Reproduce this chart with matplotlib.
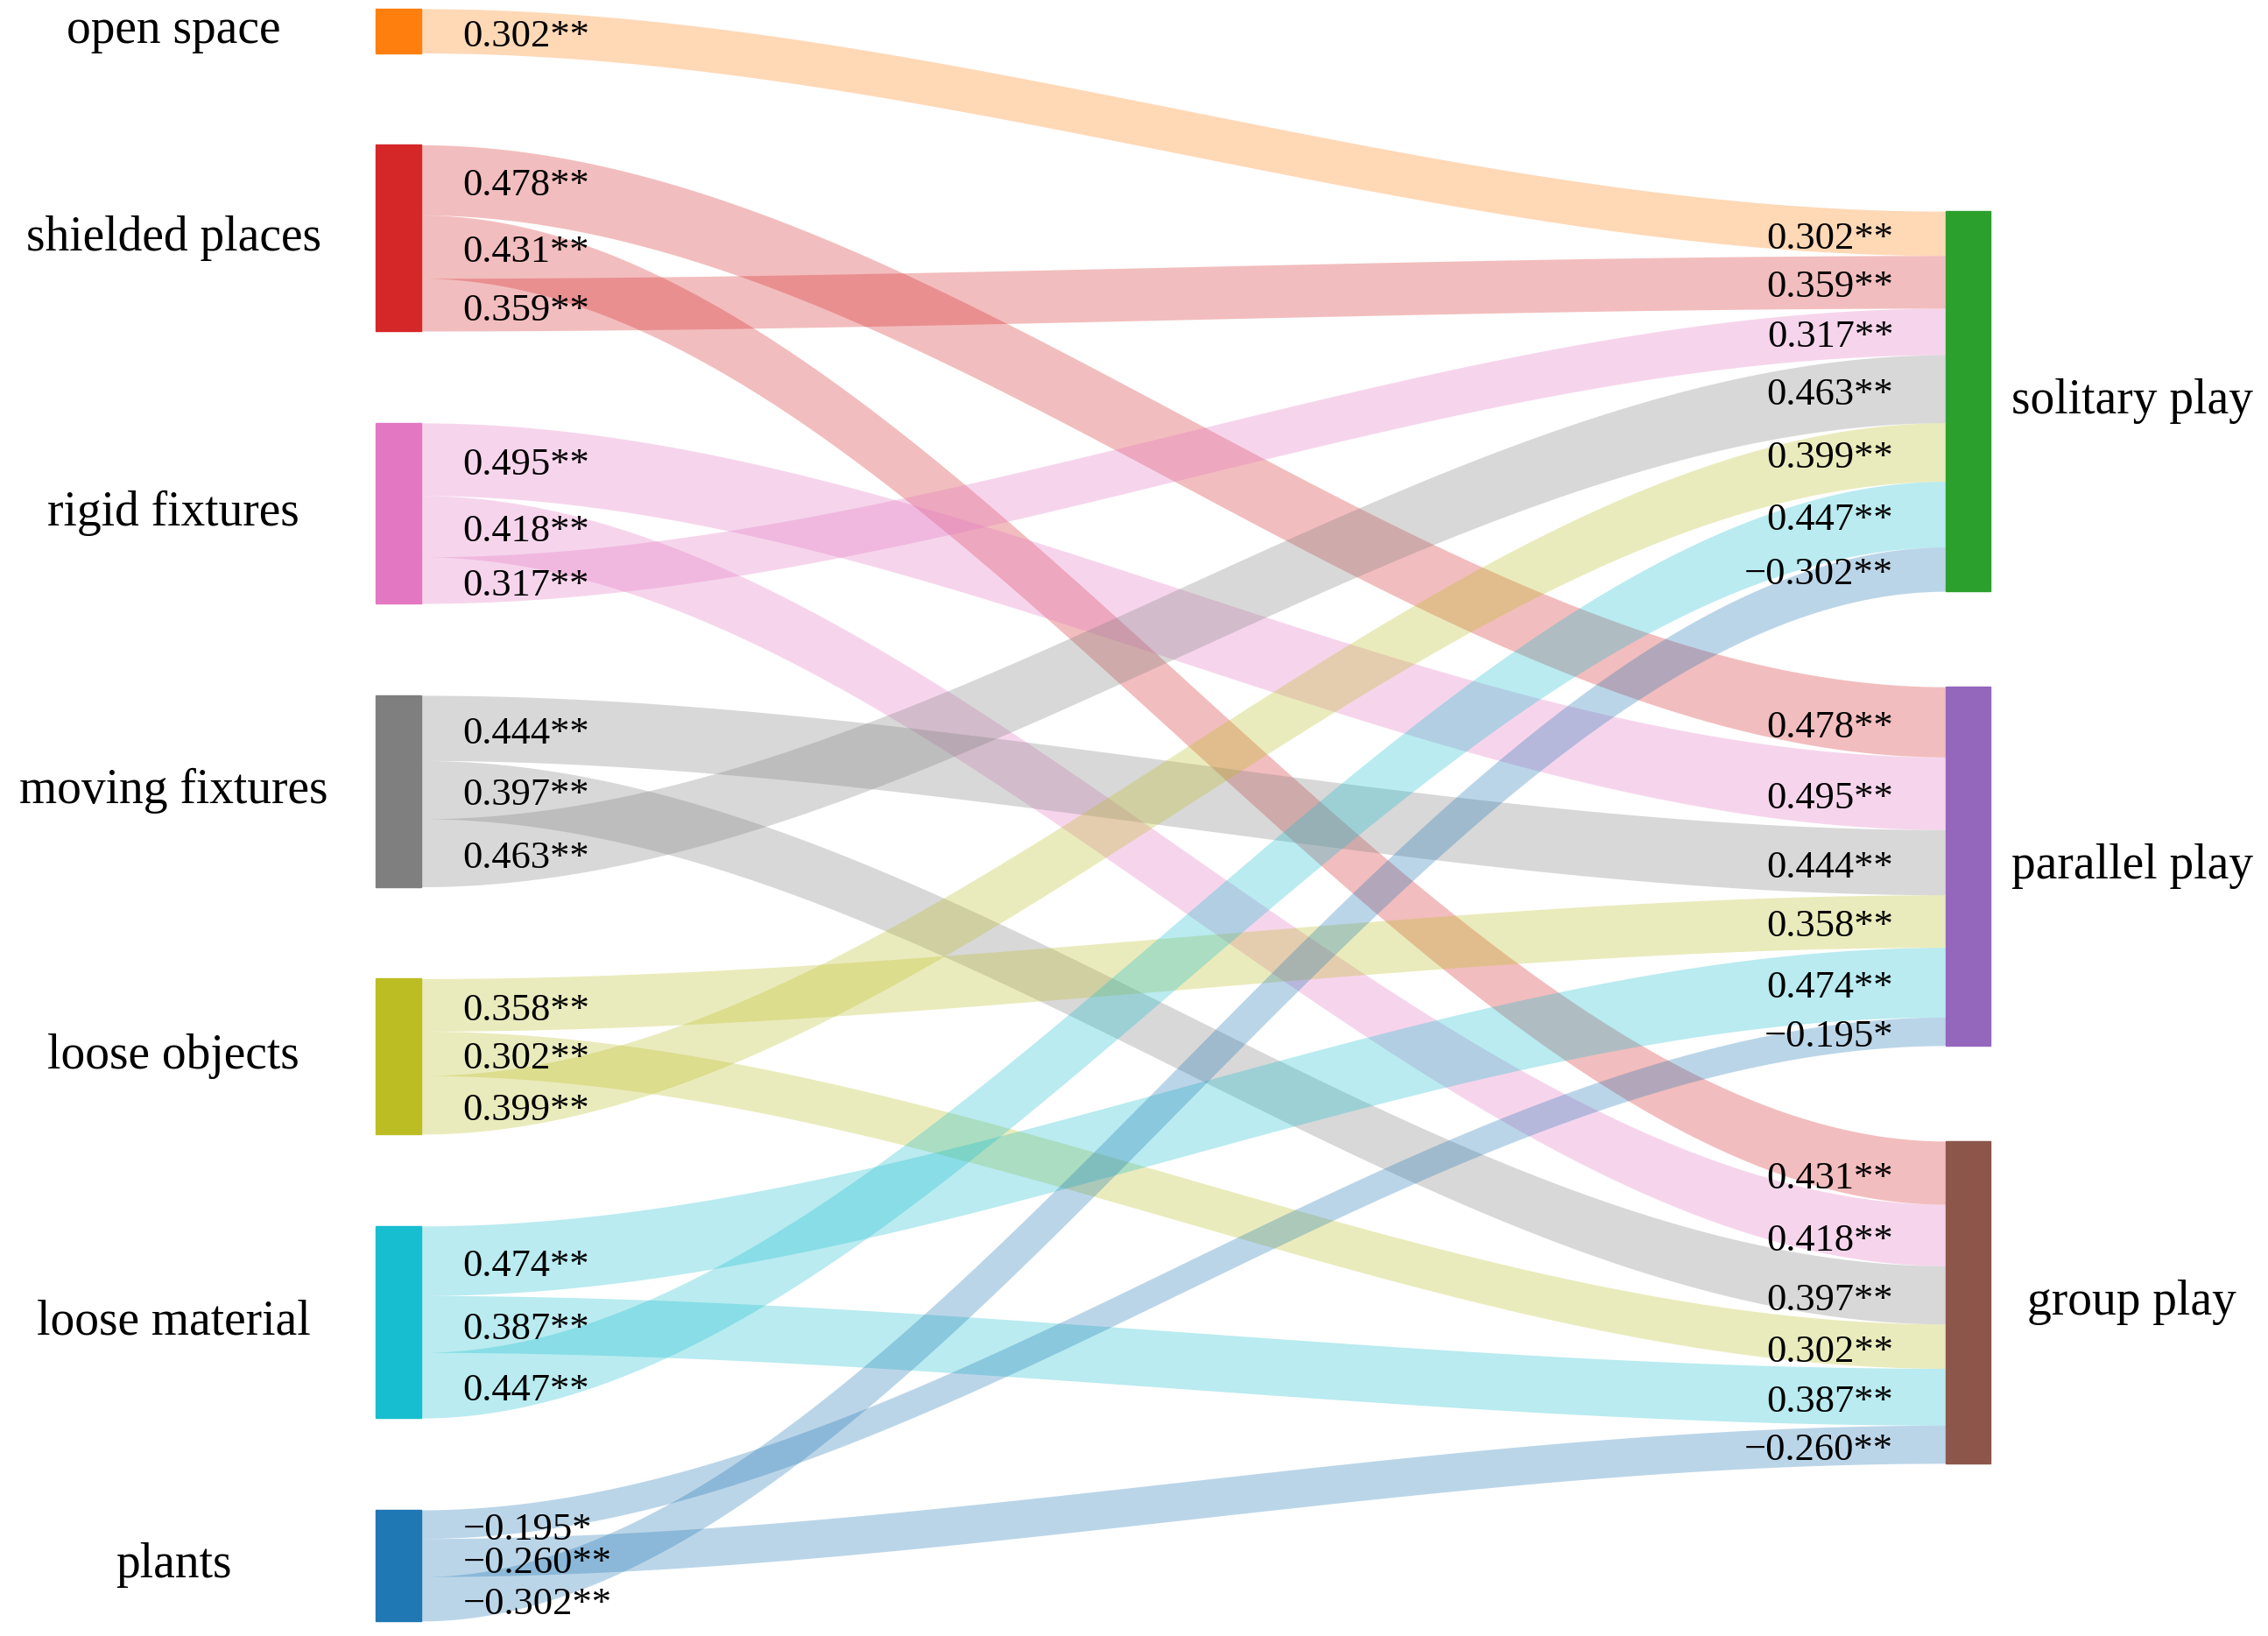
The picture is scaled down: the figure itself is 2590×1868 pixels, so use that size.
#!/usr/bin/env python3
"""
Sankey of correlations between play-space features and play types.
"""

import numpy as np
import matplotlib.pyplot as plt

# Data
SOURCES = ["open space", "shielded places", "rigid fixtures", "moving fixtures",
           "loose objects", "loose material", "plants"]
TARGETS = ["solitary play", "parallel play", "group play"]
SOURCE_COLORS = ["#ff7f0e", "#d62728", "#e377c2", "#7f7f7f", "#bcbd22", "#17becf", "#1f77b4"]
TARGET_COLORS = ["#2ca02c", "#9467bd", "#8c564b"]

# links per source, in the order they leave the source node: (target index, value, label)
LINKS = [
    [(0, 0.302, "0.302**")],
    [(1, 0.478, "0.478**"), (2, 0.431, "0.431**"), (0, 0.359, "0.359**")],
    [(1, 0.495, "0.495**"), (2, 0.418, "0.418**"), (0, 0.317, "0.317**")],
    [(1, 0.444, "0.444**"), (2, 0.397, "0.397**"), (0, 0.463, "0.463**")],
    [(1, 0.358, "0.358**"), (2, 0.302, "0.302**"), (0, 0.399, "0.399**")],
    [(1, 0.474, "0.474**"), (2, 0.387, "0.387**"), (0, 0.447, "0.447**")],
    [(1, -0.195, "\u22120.195*"), (2, -0.260, "\u22120.260**"), (0, -0.302, "\u22120.302**")],
]

# Layout (in reference pixel units)
W, H = 1568, 1131
SCALE = 101.5
LEFT_X0, LEFT_X1 = 260, 291
RIGHT_X0, RIGHT_X1 = 1345, 1376
LEFT_TOP, LEFT_GAP = 6, 63.5
RIGHT_TOP, RIGHT_GAP = 146, 66
SERIF = ["Liberation Serif", "DejaVu Serif"]


def band(ax, x0, x1, ya0, ya1, yb0, yb1, color):
    x = np.linspace(x0, x1, 200)
    u = (x - x0) / (x1 - x0)
    s = 3 * u ** 2 - 2 * u ** 3
    top = ya0 + (yb0 - ya0) * s
    bot = ya1 + (yb1 - ya1) * s
    ax.fill_between(x, top, bot, color=color, alpha=0.3, lw=0)


def main():
    fig = plt.figure(figsize=(25.9, 18.68), dpi=100)
    ax = fig.add_axes([0, 0, 1, 1])
    ax.set_xlim(0, W)
    ax.set_ylim(H, 0)
    ax.axis("off")

    # target node positions
    tgt_tot = [0.0] * len(TARGETS)
    for links in LINKS:
        for t, v, _ in links:
            tgt_tot[t] += abs(v)
    tgt_top = []
    y = RIGHT_TOP
    for tot in tgt_tot:
        tgt_top.append(y)
        y += tot * SCALE + RIGHT_GAP
    tgt_cursor = list(tgt_top)

    y = LEFT_TOP
    for i, links in enumerate(LINKS):
        h = sum(abs(v) for _, v, _ in links) * SCALE
        ax.add_patch(plt.Rectangle((LEFT_X0, y), LEFT_X1 - LEFT_X0, h,
                                   color=SOURCE_COLORS[i], zorder=3))
        ax.text(120, y + h / 2, SOURCES[i], ha="center", va="center",
                fontsize=40, family=SERIF)
        ys = y
        for t, v, lab in links:
            bh = abs(v) * SCALE
            yt = tgt_cursor[t]
            band(ax, LEFT_X1, RIGHT_X0, ys, ys + bh, yt, yt + bh, SOURCE_COLORS[i])
            ax.text(LEFT_X1 + 29, ys + bh / 2 + 4, lab, ha="left", va="center",
                    fontsize=32, family=SERIF, zorder=4)
            ax.text(RIGHT_X0 - 36, yt + bh / 2 + 4, lab, ha="right", va="center",
                    fontsize=32, family=SERIF, zorder=4)
            ys += bh
            tgt_cursor[t] += bh
        y += h + LEFT_GAP

    for j, name in enumerate(TARGETS):
        h = tgt_tot[j] * SCALE
        ax.add_patch(plt.Rectangle((RIGHT_X0, tgt_top[j]), RIGHT_X1 - RIGHT_X0, h,
                                   color=TARGET_COLORS[j], zorder=3))
        ax.text(1474, tgt_top[j] + h / 2, name, ha="center", va="center",
                fontsize=40, family=SERIF)

    fig.savefig("out.png", dpi=100)
    plt.close(fig)


if __name__ == "__main__":
    main()
